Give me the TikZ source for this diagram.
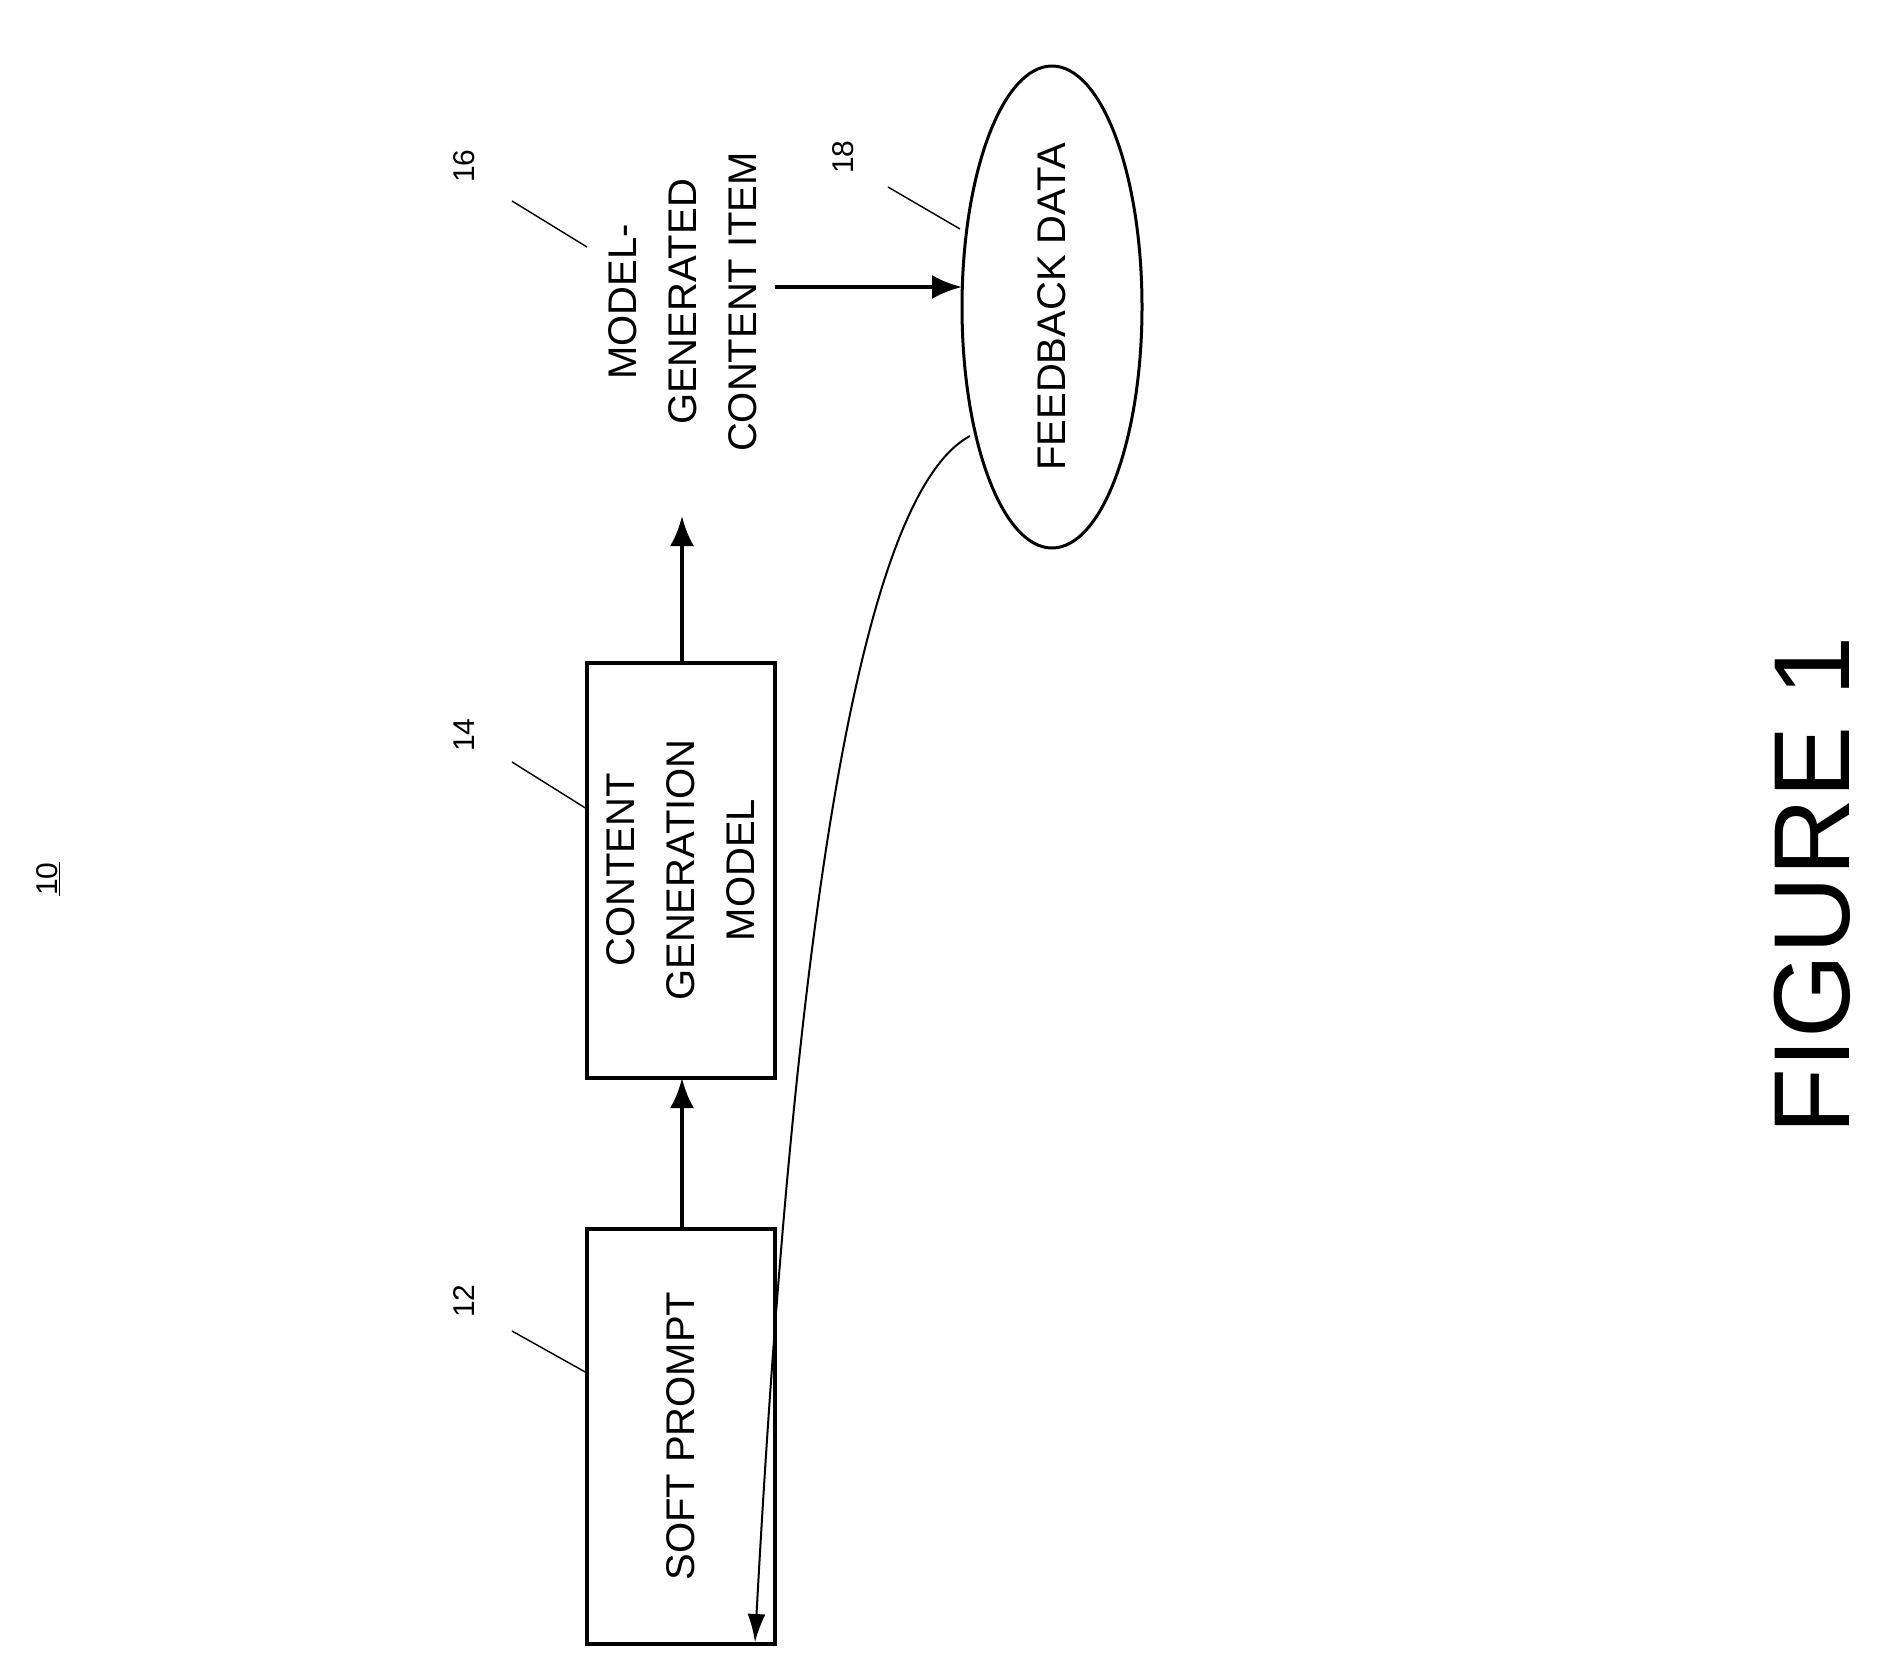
\documentclass[tikz,border=0pt]{standalone}
\usepackage{fontspec}
\setmainfont{Liberation Sans}
\usetikzlibrary{arrows.meta, shapes.geometric}

\tikzset{
  blk/.style={draw, line width=4pt, minimum width=415pt, minimum height=188pt, rotate=90, align=center, font=\fontsize{40}{60}\selectfont},
  txt/.style={rotate=90, align=center, font=\fontsize{40}{60}\selectfont},
  num/.style={rotate=90, font=\fontsize{30}{36}\selectfont},
  lead/.style={line width=1.4pt},
  flow/.style={-{Latex[length=30pt, width=24pt]}, line width=4pt},
}

\begin{document}
\begin{tikzpicture}[x=1pt, y=-1pt]
\useasboundingbox (0,0) rectangle (1879,1660);

%\draw[step=100,color=gray!40] (0,0) grid (1879,1660);

\node[num] (fig) at (48, 879) {\underline{10}};

\node[blk] (soft) at (681, 1436) {SOFT PROMPT};
\node[blk] (cgm) at (681, 870) {CONTENT\\GENERATION\\MODEL};
\node[txt] (item) at (683, 302) {MODEL-\\GENERATED\\CONTENT ITEM};
\node[draw, ellipse, line width=3pt, minimum width=482pt, minimum height=180pt, inner sep=0pt, txt] (fb) at (1052, 307) {FEEDBACK DATA};

% reference numbers and leader lines
\node[num] (n12) at (464, 1301) {12};
\node[num] (n14) at (464, 735) {14};
\node[num] (n16) at (464, 166) {16};
\node[num] (n18) at (843, 157) {18};
\draw[lead] (512,1331) -- (587,1373);
\draw[lead] (512,762) -- (587,809);
\draw[lead] (512,201) -- (587,247);
\draw[lead] (888,187) -- (960,229);

% connectors
\coordinate (softtop) at (682, 1229);
\coordinate (cgmbot) at (682, 1078);
\coordinate (cgmtop) at (682, 662);
\coordinate (itemend) at (682, 516);
\coordinate (itemout) at (775, 287);
\coordinate (fbin) at (962, 287);
\coordinate (fbout) at (970, 436);
\coordinate (back) at (755, 1642);
\draw[flow] (softtop) -- (cgmbot);
\draw[flow] (cgmtop) -- (itemend);
\draw[flow] (itemout) -- (fbin);
\draw[-{Latex[length=28pt, width=18pt]}, line width=2pt] (fbout) .. controls (850, 500) and (790, 1000) .. (back);

\node[rotate=90, font=\fontsize{108}{112}\selectfont] (cap) at (1812, 885) {FIGURE 1};
\end{tikzpicture}
\end{document}
